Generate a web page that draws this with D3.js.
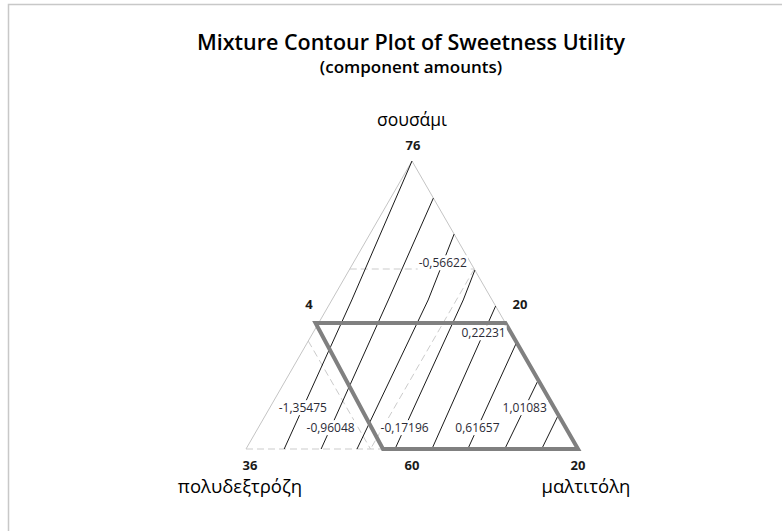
<!DOCTYPE html>
<html>
<head>
<meta charset="utf-8">
<script src="https://cdn.jsdelivr.net/npm/d3@7"></script>
<style>
  html, body { margin: 0; padding: 0; background: #ffffff; }
  svg { display: block; }
  text { font-family: "Open Sans", "Noto Sans", sans-serif; }
</style>
</head>
<body>
<svg id="chart" width="782" height="531"></svg>
<script>
// Mixture components (top, left, right vertex) and their amount bounds
const componentNames = ["σουσάμι", "πολυδεξτρόζη", "μαλτιτόλη"];
const lowerBounds = [60, 20, 4];
const vertexAmounts = [76, 36, 20];
const upperBounds = [70, 30, 10];
const totalAmount = 100;

// Contour levels of the fitted sweetness utility
const contourLevels = [-1.35475, -0.96048, -0.56622, -0.17196, 0.22231, 0.61657, 1.01083, 1.40509];
const labelledLevels = [true, true, true, true, true, true, true, false];

// Each contour as a polyline of [σουσάμι, μαλτιτόλη] amounts
const contourPaths = [
  [[60, 5.84], [68.28, 4.96], [76, 4]],
  [[60, 7.62], [68.28, 6.72], [73.94, 6.06]],
  [[60, 9.35], [68.28, 8.64], [71.94, 8.06]],
  [[60, 11.18], [68.28, 10.33], [69.94, 10.06]],
  [[60, 12.96], [67.94, 12.06]],
  [[60, 14.69], [65.92, 14.08]],
  [[60, 16.47], [63.83, 16.17]],
  [[60, 18.25], [61.89, 18.11]]
];
// σουσάμι amount at which each level label sits on its contour
const labelAtSousami = [62.28, 61.17, 70.33, 61.17, 66.44, 61.17, 62.28, null];

// Constrained design region, [σουσάμι, μαλτιτόλη] amounts
const regionCorners = [[67, 3.85], [67, 13], [60, 20], [60, 10.6]];

const svg = d3.select("#chart");
const W = 782, H = 531;

// frame
svg.append("rect")
  .attr("x", 8.5).attr("y", 4.5)
  .attr("width", W + 20).attr("height", H + 20)
  .attr("fill", "none").attr("stroke", "#c8c8c8").attr("stroke-width", 1.5);

// Ternary geometry through linear scales
const sRange = vertexAmounts[0] - lowerBounds[0];
const yScale = d3.scaleLinear().domain([lowerBounds[0], vertexAmounts[0]]).range([449, 161]);
const xScale = d3.scaleLinear().domain([0, 1]).range([246, 578]);
function project(s, m) {
  const sp = (s - lowerBounds[0]) / sRange;
  const mp = (m - lowerBounds[2]) / sRange;
  return [xScale(mp + sp / 2), yScale(s)];
}
const line = d3.line().x(d => project(d[0], d[1])[0]).y(d => project(d[0], d[1])[1]);

// Title
svg.append("text").attr("x", 411).attr("y", 49.5).attr("text-anchor", "middle")
  .attr("font-size", 21.5).attr("font-weight", 600).attr("fill", "#000")
  .text("Mixture Contour Plot of Sweetness Utility");
svg.append("text").attr("x", 411).attr("y", 72.5).attr("text-anchor", "middle")
  .attr("font-size", 17).attr("font-weight", 600).attr("fill", "#000")
  .text("(component amounts)");

// Triangle sides (left and right solid)
const apex = [vertexAmounts[0], lowerBounds[2]];
const leftV = [lowerBounds[0], lowerBounds[2]];
const rightV = [lowerBounds[0], vertexAmounts[2]];
svg.append("path").attr("d", line([leftV, apex, rightV]))
  .attr("fill", "none").attr("stroke", "#c4c4c4").attr("stroke-width", 1);

// Component bound lines (dashed): lower bound of σουσάμι on the base,
// and the upper bounds of each component as chords across the triangle
const sU = upperBounds[0], pU = upperBounds[1], mU = upperBounds[2];
const boundLines = [
  [leftV, rightV],
  [[sU, lowerBounds[2]], [sU, totalAmount - sU - lowerBounds[1]]],
  [[totalAmount - pU - lowerBounds[2], lowerBounds[2]], [lowerBounds[0], totalAmount - pU - lowerBounds[0]]],
  [[totalAmount - mU - lowerBounds[1], mU], [lowerBounds[0], mU]]
];
svg.selectAll("path.bound").data(boundLines).join("path")
  .attr("class", "bound").attr("d", line)
  .attr("fill", "none").attr("stroke", "#cbcbcb").attr("stroke-width", 1)
  .attr("stroke-dasharray", "7,4");

// Contours
svg.selectAll("path.contour").data(contourPaths).join("path")
  .attr("class", "contour").attr("d", line)
  .attr("fill", "none").attr("stroke", "#1a1a1a").attr("stroke-width", 1);

// Design region
svg.append("path").attr("d", line(regionCorners) + "Z")
  .attr("fill", "none").attr("stroke", "#808080").attr("stroke-width", 4)
  .attr("stroke-linejoin", "miter");

// Contour level labels
const fmt = d3.formatLocale({ decimal: ",", thousands: ".", grouping: [3], currency: ["", "€"], minus: "-" }).format(".5f");
function pointOnPath(path, s) {
  for (let i = 0; i < path.length - 1; i++) {
    const a = path[i], b = path[i + 1];
    if ((s - a[0]) * (s - b[0]) <= 0) {
      const t = (s - a[0]) / (b[0] - a[0]);
      return [s, a[1] + t * (b[1] - a[1])];
    }
  }
  return path[path.length - 1];
}
contourLevels.forEach((lv, i) => {
  if (!labelledLevels[i]) return;
  const pt = pointOnPath(contourPaths[i], labelAtSousami[i]);
  const [x, y] = project(pt[0], pt[1]);
  const g = svg.append("g");
  const t = g.append("text").attr("x", x).attr("y", y).attr("dy", "0.35em")
    .attr("text-anchor", "middle").attr("font-size", 12).attr("fill", "#2b2b36")
    .text(fmt(lv));
  const bb = t.node().getBBox();
  g.insert("rect", "text").attr("x", bb.x - 1).attr("y", bb.y + 1)
    .attr("width", bb.width + 2).attr("height", bb.height - 2).attr("fill", "#fff");
});

// Vertex amounts and opposite lower bounds
const midS = (lowerBounds[0] + vertexAmounts[0]) / 2;
const tickLabels = [
  { s: vertexAmounts[0], m: lowerBounds[2], text: vertexAmounts[0], dx: 1, dy: -11 },
  { s: lowerBounds[0], m: lowerBounds[2], text: vertexAmounts[1], dx: 4, dy: 21 },
  { s: lowerBounds[0], m: vertexAmounts[2], text: vertexAmounts[2], dx: 0, dy: 21 },
  { s: midS, m: lowerBounds[2], text: lowerBounds[2], dx: -20, dy: 4 },
  { s: midS, m: totalAmount - midS - lowerBounds[1], text: lowerBounds[1], dx: 25, dy: 4 },
  { s: lowerBounds[0], m: (lowerBounds[2] + vertexAmounts[2]) / 2, text: lowerBounds[0], dx: 0, dy: 21 }
];
tickLabels.forEach(d => {
  const [x, y] = project(d.s, d.m);
  svg.append("text").attr("x", x + d.dx).attr("y", y + d.dy)
    .attr("text-anchor", "middle").attr("font-size", 13).attr("font-weight", 700)
    .attr("fill", "#1a1a1a").text(d.text);
});

// Component names
const nameSpots = [
  { s: vertexAmounts[0], m: lowerBounds[2], dx: 0, dy: -35 },
  { s: lowerBounds[0], m: lowerBounds[2], dx: -6, dy: 44 },
  { s: lowerBounds[0], m: vertexAmounts[2], dx: 8, dy: 44 }
];
const nameSizes = [17.5, 18.5, 18.5];
componentNames.forEach((n, i) => {
  const [x, y] = project(nameSpots[i].s, nameSpots[i].m);
  svg.append("text").attr("x", x + nameSpots[i].dx).attr("y", y + nameSpots[i].dy)
    .attr("text-anchor", "middle").attr("font-size", nameSizes[i]).attr("fill", "#000").text(n);
});
</script>
</body>
</html>
